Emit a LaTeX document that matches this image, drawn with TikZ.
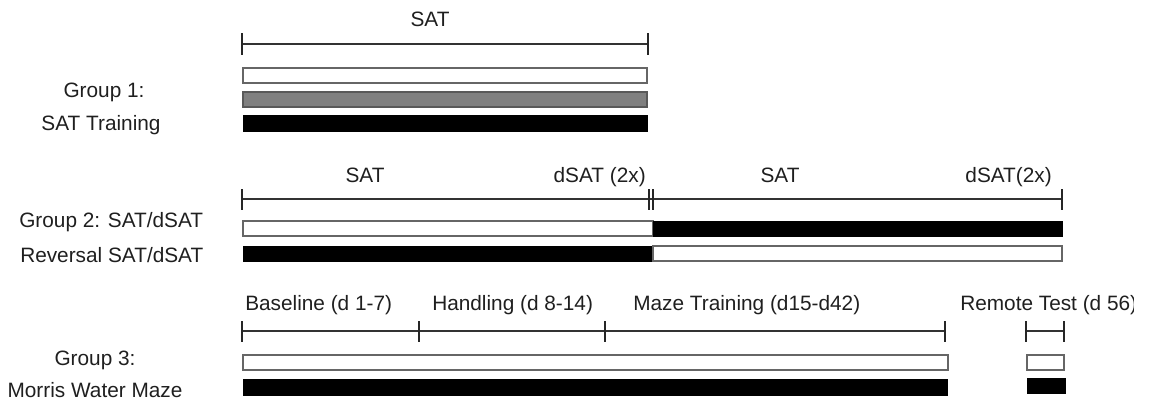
\documentclass[tikz,border=0pt]{standalone}
\usepackage{fontspec}
\setmainfont{Liberation Sans}
\begin{document}
\begin{tikzpicture}[x=0.75pt,y=-0.75pt,
  lbl/.style={inner sep=0pt,text=black!88,font=\fontsize{15.6}{18}\selectfont},
  span/.style={draw=black!80,line width=1.3pt*0.75},
  tickmark/.style={draw=black!85,line width=1.6pt*0.75},
  emptybar/.style={draw=black!60,fill=white,line width=1.5pt*0.75},
  greybar/.style={draw=black!65,fill=black!50,line width=1.5pt*0.75},
  fullbar/.style={draw=black,fill=black,line width=1pt*0.75}]
\useasboundingbox (0,0) rectangle (1150,400);

% ---- Group 1: SAT training ----
\node[lbl,anchor=base] (g1sat) at (430,26) {SAT};
\draw[span] (242,44) -- (648,44);
\draw[tickmark] (242,33) -- (242,55);
\draw[tickmark] (648,33) -- (648,55);
\draw[emptybar] (243,68) rectangle (647,83);
\draw[greybar] (243,92) rectangle (647,107);
\draw[fullbar] (243,115) rectangle (647,131);
\node[lbl,anchor=base] (g1a) at (104,97) {Group 1:};
\node[lbl,anchor=base] (g1b) at (101,130) {SAT Training};

% ---- Group 2: SAT/dSAT and reversal ----
\node[lbl,anchor=base] (g2sat) at (365,182) {SAT};
\node[lbl,anchor=base east] (g2dsat) at (646,182) {dSAT (2x)};
\node[lbl,anchor=base] (g2sat2) at (780,182) {SAT};
\node[lbl,anchor=base east] (g2dsat2) at (1052,182) {dSAT(2x)};
\draw[span] (242,199) -- (1062,199);
\draw[tickmark] (242,189) -- (242,210);
\draw[tickmark] (649,189) -- (649,210);
\draw[tickmark] (653,189) -- (653,210);
\draw[tickmark] (1062,189) -- (1062,210);
\draw[emptybar] (243,221) rectangle (653,236);
\draw[fullbar] (653,221) rectangle (1062,236);
\draw[fullbar] (243,246) rectangle (653,261);
\draw[emptybar] (653,246) rectangle (1062,261);
\node[lbl,anchor=base west] (g2a) at (19,227) {Group 2: SAT/dSAT};
\node[lbl,anchor=base west] (g2b) at (20,262) {Reversal SAT/dSAT};

% ---- Group 3: Morris water maze ----
\node[lbl,anchor=base west] (g3base) at (245,310) {Baseline (d 1-7)};
\node[lbl,anchor=base west] (g3hand) at (432,310) {Handling (d 8-14)};
\node[lbl,anchor=base west] (g3maze) at (633,310) {Maze Training (d15-d42)};
\begin{scope}
  % the last label is cut off by its text frame
  \clip (950,285) rectangle (1133,320);
  \node[lbl,anchor=base west] (g3remote) at (960,310) {Remote Test (d 56)};
\end{scope}
\draw[span] (242,331) -- (945,331);
\foreach \tx in {242,419,605,945}
  \draw[tickmark] (\tx,321) -- (\tx,342);
\draw[span] (1026,331) -- (1064,331);
\draw[tickmark] (1026,321) -- (1026,342);
\draw[tickmark] (1064,321) -- (1064,342);
\draw[emptybar] (243,355) rectangle (948,370);
\draw[emptybar] (1027,355) rectangle (1064,370);
\draw[fullbar] (243,379) rectangle (947,395);
\draw[fullbar] (1027,378) rectangle (1065,393);
\node[lbl,anchor=base] (g3a) at (95,365) {Group 3:};
\node[lbl,anchor=base] (g3b) at (95,397) {Morris Water Maze};
\end{tikzpicture}
\end{document}
